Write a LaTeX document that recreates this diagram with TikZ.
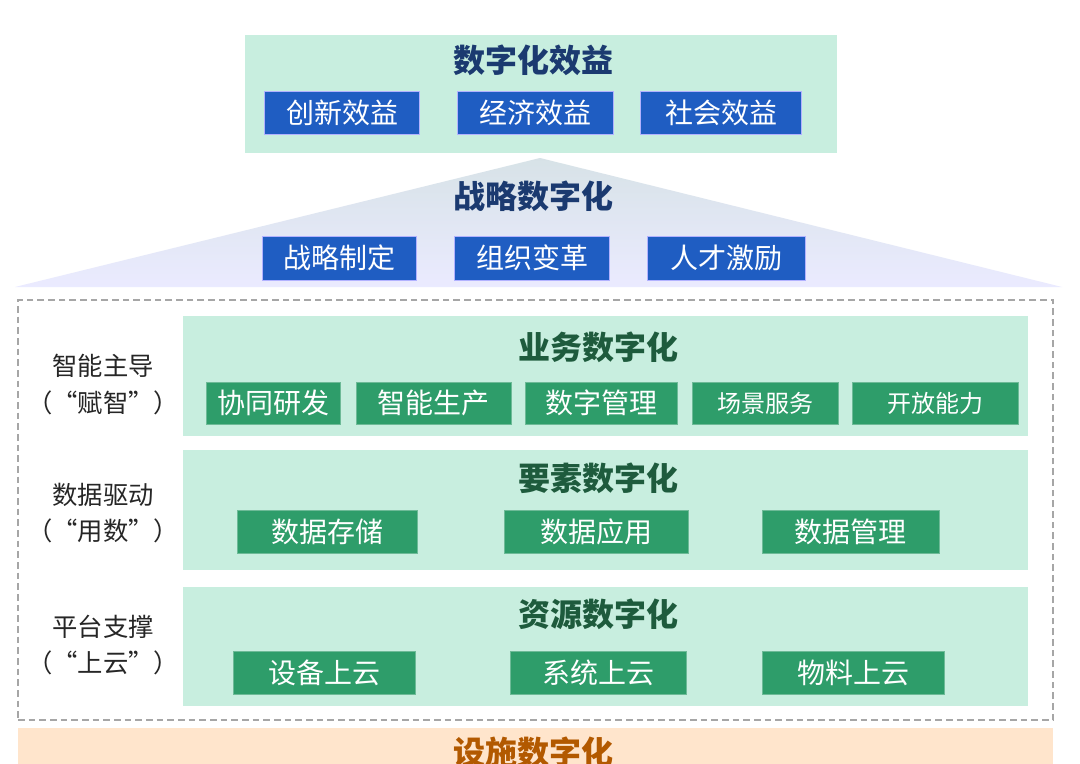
\documentclass[tikz,border=0pt]{standalone}
\usepackage{fontspec}
\setmainfont{Noto Sans CJK SC}
\begin{document}
\begin{tikzpicture}[x=0.75pt,y=-0.75pt,
  w/.style={minimum width=#1*0.75pt},
  h/.style={minimum height=#1*0.75pt},
  title/.style={font=\bfseries\fontsize{24}{27}\selectfont},
  bbox/.style={fill=bbx, draw=blue!30!white, line width=0.6pt, text=white, inner sep=0, font=\fontsize{21}{24}\selectfont},
  gbox/.style={fill=gbx, draw=gbx!70!white, line width=0.6pt, text=white, inner sep=0, font=\fontsize{21}{24}\selectfont},
  lab/.style={font=\fontsize{19}{22}\selectfont, text=black!85}]
\definecolor{gbx}{HTML}{2E9D6A}
\definecolor{pan}{HTML}{C8EEDF}
\definecolor{bbx}{HTML}{1F5DC2}
\definecolor{btitle}{HTML}{1B3A70}
\definecolor{gtitle}{HTML}{1E5B3D}
\useasboundingbox (0,0) rectangle (1080,763);
\fill[white] (0,0) rectangle (1080,763);
% triangle
\shade[top color=blue!30!cyan!25!gray!25!white, bottom color=blue!8!white] (540,158) -- (1062,287) -- (15,287) -- cycle;
% top box
\node[fill=pan, w=592, h=118, inner sep=0] (top) at (541,94) {};
\node[title, text=btitle] (t0) at (533,60) {数字化效益};
\node[bbox, w=155, h=43] (a1) at (342,113) {创新效益};
\node[bbox, w=156, h=43] (a2) at (535,113) {经济效益};
\node[bbox, w=161, h=43] (a3) at (721,113) {社会效益};
\node[title, text=btitle] (t1) at (533,196) {战略数字化};
\node[bbox, w=154, h=44] (b1) at (339,258) {战略制定};
\node[bbox, w=155, h=44] (b2) at (532,258) {组织变革};
\node[bbox, w=158, h=44] (b3) at (726,258) {人才激励};
% dashed frame
\node[draw=gray!70, dash pattern=on 5pt off 3pt, line width=0.8pt, w=1035, h=420, inner sep=0] (frame) at (535.5,510) {};
% panels
\node[fill=pan, w=845, h=120, inner sep=0] (p1) at (605.5,376) {};
\node[fill=pan, w=845, h=120, inner sep=0] (p2) at (605.5,510) {};
\node[fill=pan, w=845, h=119, inner sep=0] (p3) at (605.5,646.5) {};
\node[title, text=gtitle] (t2) at (598,347) {业务数字化};
\node[title, text=gtitle] (t3) at (598,478) {要素数字化};
\node[title, text=gtitle] (t4) at (598,614) {资源数字化};
\node[gbox, w=134, h=42] (c1) at (273,403) {协同研发};
\node[gbox, w=155, h=42] (c2) at (433.5,403) {智能生产};
\node[gbox, w=152, h=42] (c3) at (601,403) {数字管理};
\node[gbox, w=146, h=42, font=\fontsize{18}{20}\selectfont] (c4) at (765,403) {场景服务};
\node[gbox, w=166, h=42, font=\fontsize{18}{20}\selectfont] (c5) at (935,403) {开放能力};
\node[gbox, w=180, h=43] (d1) at (327,531.5) {数据存储};
\node[gbox, w=184, h=43] (d2) at (596,531.5) {数据应用};
\node[gbox, w=177, h=43] (d3) at (850.5,531.5) {数据管理};
\node[gbox, w=182, h=43] (e1) at (324,672.5) {设备上云};
\node[gbox, w=176, h=43] (e2) at (598,672.5) {系统上云};
\node[gbox, w=182, h=43] (e3) at (853,672.5) {物料上云};
% left labels
\node[lab] (l1) at (103,366) {智能主导};
\node[lab] (l1b) at (103,403) {（“赋智”）};
\node[lab] (l2) at (103,495) {数据驱动};
\node[lab] (l2b) at (103,531) {（“用数”）};
\node[lab] (l3) at (103,627) {平台支撑};
\node[lab] (l3b) at (103,663) {（“上云”）};
% bottom
\node[fill=orange!20!white, w=1035, h=40, inner sep=0, anchor=north] (bot) at (535.5,728) {};
\node[title, text=orange!70!black] (t5) at (533,752) {设施数字化};
\end{tikzpicture}
\end{document}
